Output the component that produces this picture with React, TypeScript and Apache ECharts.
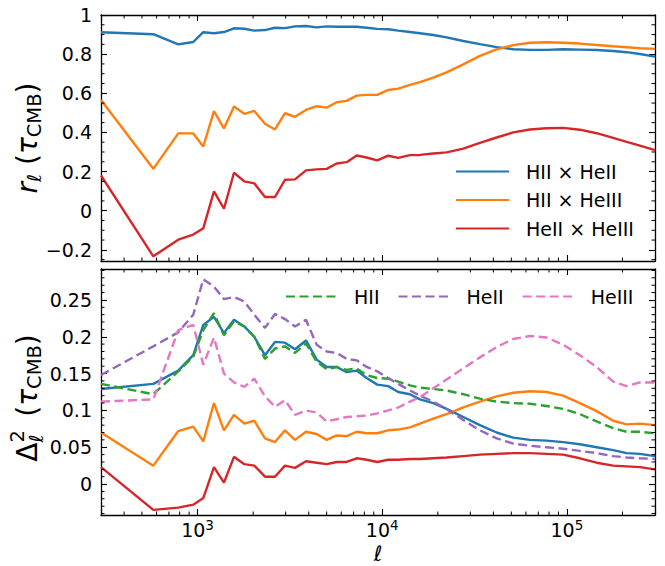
import React, { useEffect, useRef } from "react";
import * as echarts from "echarts";

// multipole bins (ℓ)
const ELL = [300, 576, 786, 948, 1074, 1227, 1390, 1575, 1791, 2028, 2318, 2626, 2974, 3369, 3865, 4416, 5002, 5666, 6418, 7270, 8236, 9400, 10780, 12210, 14130, 16000, 18890, 22320, 27470, 33810, 41640, 51240, 63060, 77670, 95520, 117600, 144900, 178100, 210600, 248600, 300000];

// top panel: cross-correlation coefficients r_ℓ
const R_HII_HEII = [0.912, 0.902, 0.850, 0.862, 0.912, 0.907, 0.913, 0.932, 0.930, 0.920, 0.923, 0.935, 0.933, 0.942, 0.944, 0.937, 0.942, 0.940, 0.940, 0.940, 0.935, 0.929, 0.927, 0.920, 0.913, 0.907, 0.898, 0.886, 0.867, 0.851, 0.836, 0.825, 0.822, 0.822, 0.825, 0.823, 0.821, 0.816, 0.810, 0.801, 0.787];
const R_HII_HEIII = [0.566, 0.214, 0.395, 0.395, 0.328, 0.509, 0.420, 0.532, 0.495, 0.510, 0.444, 0.415, 0.498, 0.480, 0.515, 0.534, 0.527, 0.554, 0.561, 0.588, 0.592, 0.592, 0.617, 0.624, 0.643, 0.657, 0.680, 0.707, 0.748, 0.791, 0.824, 0.846, 0.858, 0.861, 0.858, 0.854, 0.847, 0.840, 0.835, 0.830, 0.827];
const R_HEII_HEIII = [0.180, -0.233, -0.148, -0.122, -0.090, 0.099, 0.010, 0.194, 0.150, 0.140, 0.070, 0.070, 0.158, 0.160, 0.206, 0.211, 0.214, 0.241, 0.248, 0.282, 0.272, 0.257, 0.281, 0.270, 0.284, 0.285, 0.292, 0.298, 0.317, 0.347, 0.374, 0.400, 0.415, 0.421, 0.423, 0.414, 0.396, 0.372, 0.352, 0.333, 0.310];

// bottom panel: power spectra Δ²_ℓ
const D_HII = [0.136, 0.122, 0.153, 0.173, 0.209, 0.232, 0.202, 0.221, 0.214, 0.200, 0.170, 0.184, 0.187, 0.178, 0.191, 0.166, 0.156, 0.159, 0.155, 0.157, 0.148, 0.144, 0.143, 0.139, 0.134, 0.131, 0.129, 0.127, 0.122, 0.116, 0.112, 0.110, 0.109, 0.106, 0.102, 0.095, 0.085, 0.076, 0.071, 0.071, 0.069];
const D_HEII = [0.148, 0.187, 0.206, 0.230, 0.278, 0.268, 0.251, 0.254, 0.248, 0.230, 0.212, 0.231, 0.224, 0.214, 0.223, 0.189, 0.180, 0.178, 0.170, 0.168, 0.159, 0.153, 0.144, 0.136, 0.127, 0.120, 0.112, 0.102, 0.087, 0.073, 0.062, 0.055, 0.052, 0.050, 0.048, 0.045, 0.042, 0.038, 0.036, 0.035, 0.034];
const D_HEIII = [0.112, 0.115, 0.209, 0.216, 0.162, 0.199, 0.150, 0.138, 0.132, 0.143, 0.119, 0.105, 0.114, 0.094, 0.100, 0.097, 0.085, 0.088, 0.091, 0.092, 0.093, 0.096, 0.100, 0.104, 0.112, 0.118, 0.130, 0.142, 0.157, 0.172, 0.186, 0.197, 0.201, 0.199, 0.189, 0.175, 0.159, 0.139, 0.133, 0.138, 0.138];
const D_HII_HEII = [0.129, 0.136, 0.154, 0.175, 0.216, 0.227, 0.205, 0.223, 0.214, 0.200, 0.175, 0.193, 0.192, 0.183, 0.195, 0.169, 0.159, 0.159, 0.152, 0.154, 0.144, 0.135, 0.133, 0.125, 0.122, 0.115, 0.110, 0.102, 0.091, 0.080, 0.070, 0.063, 0.060, 0.059, 0.057, 0.054, 0.050, 0.046, 0.042, 0.041, 0.038];
const D_HII_HEIII = [0.070, 0.025, 0.072, 0.078, 0.058, 0.110, 0.073, 0.094, 0.082, 0.086, 0.062, 0.057, 0.073, 0.060, 0.071, 0.068, 0.060, 0.066, 0.065, 0.071, 0.069, 0.069, 0.073, 0.074, 0.077, 0.082, 0.089, 0.095, 0.104, 0.112, 0.119, 0.124, 0.126, 0.125, 0.120, 0.110, 0.099, 0.086, 0.081, 0.082, 0.080];
const D_HEII_HEIII = [0.023, -0.035, -0.032, -0.028, -0.019, 0.023, 0.002, 0.037, 0.027, 0.025, 0.010, 0.010, 0.025, 0.022, 0.031, 0.029, 0.027, 0.030, 0.030, 0.035, 0.033, 0.030, 0.033, 0.033, 0.034, 0.034, 0.035, 0.036, 0.038, 0.040, 0.041, 0.042, 0.042, 0.041, 0.040, 0.035, 0.029, 0.025, 0.024, 0.023, 0.020];

// names
const CROSS_NAMES = ["HII × HeII", "HII × HeIII", "HeII × HeIII"];
const AUTO_NAMES = ["HII", "HeII", "HeIII"];

// ticks
const TOP_MAJOR = [-0.2, 0, 0.2, 0.4, 0.6, 0.8, 1];
const TOP_MINOR = [-0.25, -0.15, -0.1, -0.05, 0.05, 0.1, 0.15, 0.25, 0.3, 0.35, 0.45, 0.5, 0.55, 0.65, 0.7, 0.75, 0.85, 0.9, 0.95];
const BOT_MAJOR = [0, 0.05, 0.1, 0.15, 0.2, 0.25];
const BOT_MINOR = [-0.04, -0.03, -0.02, -0.01, 0.01, 0.02, 0.03, 0.04, 0.06, 0.07, 0.08, 0.09, 0.11, 0.12, 0.13, 0.14, 0.16, 0.17, 0.18, 0.19, 0.21, 0.22, 0.23, 0.24, 0.26, 0.27, 0.28, 0.29];
const X_MINOR = [400, 500, 600, 700, 800, 900, 2000, 3000, 4000, 5000, 6000, 7000, 8000, 9000, 20000, 30000, 40000, 50000, 60000, 70000, 80000, 90000, 200000];

const C = { blue: "#1f77b4", orange: "#ff7f0e", green: "#2ca02c", red: "#d62728", purple: "#9467bd", pink: "#e377c2" };
const FONT = "DejaVu Sans";

type Piece = { t: string; size: number; italic?: boolean; dy: number; adv?: boolean };

function makeTitle(pieces: Piece[], cx: number, cy: number) {
  const ctx = document.createElement("canvas").getContext("2d")!;
  let x = 0;
  const items: any[] = [];
  pieces.forEach((p) => {
    const font = `${p.italic ? "italic " : ""}${p.size}px "${FONT}"`;
    ctx.font = font;
    const w = ctx.measureText(p.t).width;
    items.push({ x, p, font });
    if (p.adv !== false) x += w;
  });
  const total = x;
  return {
    type: "group",
    x: cx,
    y: cy,
    rotation: Math.PI / 2,
    silent: true,
    children: items.map((it) => ({
      type: "text",
      x: it.x - total / 2,
      y: it.p.dy,
      style: {
        text: it.p.t,
        font: it.font,
        fill: "#000",
        align: "left",
        textAlign: "left",
        verticalAlign: "middle",
        textVerticalAlign: "middle",
      },
    })),
  };
}

const isPow10 = (v: number) => {
  const e = Math.log10(v);
  return Math.abs(e - Math.round(e)) < 1e-6 ? Math.round(e) : null;
};

export default function App() {
  const ref = useRef<HTMLDivElement>(null);
  useEffect(() => {
    const chart = echarts.init(ref.current!, undefined, { renderer: "svg" });
    const zip = (ys: number[]) => ELL.map((l, i) => [l, ys[i]]);
    const axisLineStyle = { color: "#000", width: 1.3 };
    const tickStyle = { color: "#000", width: 1.1 };

    const xAxes: any[] = [];
    const yAxes: any[] = [];
    [0, 1].forEach((g) => {
      ["bottom", "top"].forEach((pos) => {
        xAxes.push({
          type: "log",
          logBase: 10,
          gridIndex: g,
          position: pos,
          min: 300,
          max: 300000,
          axisLine: { show: true, onZero: false, lineStyle: axisLineStyle },
          axisTick: { show: true, inside: true, length: 6, lineStyle: tickStyle },
          axisLabel: {
            show: g === 1 && pos === "bottom",
            color: "#000",
            margin: 3,
            formatter: (v: number) => {
              const e = isPow10(v);
              return e !== null ? `{b|10}{s|${e}}` : "";
            },
            rich: {
              b: { fontSize: 19, fontFamily: FONT, color: "#000", lineHeight: 24, verticalAlign: "middle" },
              s: { fontSize: 13.5, fontFamily: FONT, color: "#000", lineHeight: 24, verticalAlign: "top" },
            },
          },
          splitLine: { show: false },
        });
      });
      const major = g === 0 ? TOP_MAJOR : BOT_MAJOR;
      ["left", "right"].forEach((pos) => {
        yAxes.push({
          type: "value",
          gridIndex: g,
          position: pos,
          min: g === 0 ? -0.257 : -0.042,
          max: g === 0 ? 1 : 0.292,
          axisLine: { show: true, onZero: false, lineStyle: axisLineStyle },
          axisTick: { show: true, inside: true, length: 6, lineStyle: tickStyle, customValues: major },
          axisLabel: {
            show: pos === "left",
            customValues: major,
            fontSize: 19,
            fontFamily: FONT,
            color: "#000",
            margin: 9,
            formatter: (v: number) => (v < 0 ? "−" + String(Math.abs(v)) : String(v)),
          },
          splitLine: { show: false },
        });
      });
    });

    const minorX = (g: number, yRef: number) => ({
      type: "custom",
      xAxisIndex: g * 2,
      yAxisIndex: g * 2,
      silent: true,
      z: 5,
      data: X_MINOR.map((v) => [v, yRef]),
      renderItem: (params: any, api: any) => {
        const cs = params.coordSys;
        const p = api.coord([api.value(0), api.value(1)]);
        const x = p[0];
        const yb = cs.y + cs.height;
        const yt = cs.y;
        return {
          type: "group",
          children: [
            { type: "line", shape: { x1: x, y1: yb, x2: x, y2: yb - 3.5 }, style: { stroke: "#000", lineWidth: 1 } },
            { type: "line", shape: { x1: x, y1: yt, x2: x, y2: yt + 3.5 }, style: { stroke: "#000", lineWidth: 1 } },
          ],
        };
      },
    });
    const minorY = (g: number, vals: number[]) => ({
      type: "custom",
      xAxisIndex: g * 2,
      yAxisIndex: g * 2,
      silent: true,
      z: 5,
      data: vals.map((v) => [1000, v]),
      renderItem: (params: any, api: any) => {
        const cs = params.coordSys;
        const p = api.coord([api.value(0), api.value(1)]);
        const y = p[1];
        const xl = cs.x;
        const xr = cs.x + cs.width;
        return {
          type: "group",
          children: [
            { type: "line", shape: { x1: xl, y1: y, x2: xl + 3.5, y2: y }, style: { stroke: "#000", lineWidth: 1 } },
            { type: "line", shape: { x1: xr, y1: y, x2: xr - 3.5, y2: y }, style: { stroke: "#000", lineWidth: 1 } },
          ],
        };
      },
    });

    const line = (name: string, g: number, ys: number[], color: string, dashed = false) => ({
      type: "line",
      name,
      xAxisIndex: g * 2,
      yAxisIndex: g * 2,
      data: zip(ys),
      symbol: "none",
      showSymbol: false,
      smooth: false,
      lineStyle: { color, width: 2.4, type: dashed ? [9, 4.5] : "solid" },
      itemStyle: { color },
      z: dashed ? 3 : 2,
    });

    const sub = 19.5;
    const big = 28;
    const topTitle = makeTitle(
      [
        { t: "r", size: big, italic: true, dy: 0 },
        { t: "ℓ", size: sub, dy: 7 },
        { t: " (", size: big, dy: 0 },
        { t: "τ", size: big, italic: true, dy: 0 },
        { t: "CMB", size: sub, dy: 7 },
        { t: ")", size: big, dy: 0 },
      ],
      27,
      138
    );
    const botTitle = makeTitle(
      [
        { t: "Δ", size: big, dy: 0 },
        { t: "2", size: sub, dy: -10, adv: false },
        { t: "ℓ", size: sub, dy: 9 },
        { t: "  (", size: big, dy: 0 },
        { t: "τ", size: big, italic: true, dy: 0 },
        { t: "CMB", size: sub, dy: 7 },
        { t: ")", size: big, dy: 0 },
      ],
      27,
      398
    );
    // x-axis title ℓ, placed under the centre of the lower panel
    const xTitle = {
      type: "text",
      x: 378,
      y: 553.5,
      silent: true,
      style: {
        text: "ℓ",
        font: `21px "${FONT}"`,
        fill: "#000",
        align: "center",
        textAlign: "center",
        verticalAlign: "middle",
        textVerticalAlign: "middle",
      },
    };

    const legendCommon = {
      padding: 0,
      itemHeight: 20,
      selectedMode: false,
      itemStyle: { opacity: 0 },
    };

    chart.setOption({
      animation: false,
      backgroundColor: "#fff",
      textStyle: { fontFamily: FONT },
      grid: [
        { left: 101, top: 15, width: 554, height: 246, outerBoundsMode: "none" },
        { left: 101, top: 269, width: 554, height: 246, outerBoundsMode: "none" },
      ],
      xAxis: xAxes,
      yAxis: yAxes,
      legend: [
        {
          ...legendCommon,
          data: CROSS_NAMES,
          orient: "vertical",
          left: 455,
          top: 162,
          itemWidth: 53,
          itemGap: 9.5,
          textStyle: { fontSize: 19, fontFamily: FONT, color: "#000", padding: [0, 0, 0, 12] },
        },
        {
          ...legendCommon,
          data: AUTO_NAMES,
          orient: "horizontal",
          left: 285,
          top: 287,
          itemWidth: 50,
          itemGap: 18,
          textStyle: { fontSize: 19, fontFamily: FONT, color: "#000", padding: [0, 0, 0, 13] },
        },
      ],
      graphic: [topTitle, botTitle, xTitle],
      series: [
        line(CROSS_NAMES[0], 0, R_HII_HEII, C.blue),
        line(CROSS_NAMES[1], 0, R_HII_HEIII, C.orange),
        line(CROSS_NAMES[2], 0, R_HEII_HEIII, C.red),
        line(CROSS_NAMES[0], 1, D_HII_HEII, C.blue),
        line(CROSS_NAMES[1], 1, D_HII_HEIII, C.orange),
        line(CROSS_NAMES[2], 1, D_HEII_HEIII, C.red),
        line(AUTO_NAMES[0], 1, D_HII, C.green, true),
        line(AUTO_NAMES[1], 1, D_HEII, C.purple, true),
        line(AUTO_NAMES[2], 1, D_HEIII, C.pink, true),
        minorX(0, 0.5),
        minorX(1, 0.1),
        minorY(0, TOP_MINOR),
        minorY(1, BOT_MINOR),
      ],
    });
    return () => chart.dispose();
  }, []);
  return (
    <div
      ref={ref}
      style={{ position: "absolute", left: 0, top: 0, width: 665, height: 566, background: "#fff" }}
    />
  );
}
